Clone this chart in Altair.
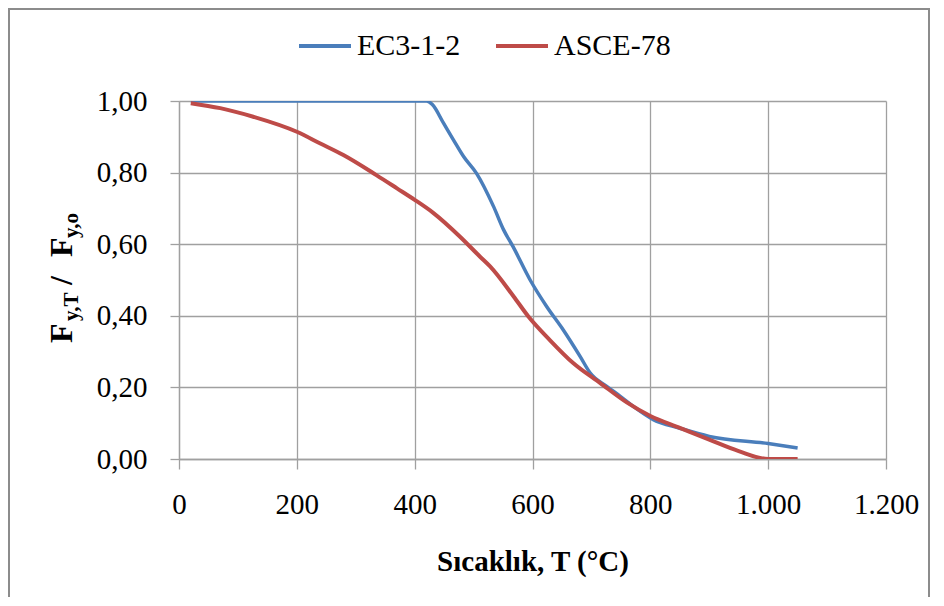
import altair as alt
import pandas as pd

# ---- data ----
series_names = ["EC3-1-2", "ASCE-78"]
series_colors = ["#4A7EBB", "#BE4B48"]

ec3_T = [20, 100, 200, 300, 400, 420, 430, 449, 466, 483, 505, 534, 551, 567,
         596, 624, 652, 681, 698, 726, 749, 771, 805, 850, 900, 1000, 1050]
ec3_k = [1.0, 1.0, 1.0, 1.0, 1.0, 1.0, 0.99, 0.938, 0.891, 0.845, 0.798, 0.705,
         0.64, 0.593, 0.50, 0.426, 0.361, 0.286, 0.24, 0.203, 0.175, 0.147,
         0.11, 0.086, 0.063, 0.043, 0.031]

asce_T = [20, 70, 126, 200, 239, 279, 335, 370, 400, 432, 477, 511, 528, 568,
          593, 629, 669, 715, 760, 800, 850, 900, 950, 1000, 1050]
asce_k = [0.994, 0.98, 0.956, 0.914, 0.882, 0.849, 0.793, 0.756, 0.724, 0.687,
          0.621, 0.565, 0.538, 0.454, 0.398, 0.333, 0.268, 0.212, 0.158, 0.12,
          0.087, 0.054, 0.022, 0.0, 0.0]

x_ticks = [0, 200, 400, 600, 800, 1000, 1200]
y_ticks = [0.0, 0.2, 0.4, 0.6, 0.8, 1.0]

x_title = "Sıcaklık, T (°C)"
y_title_parts = ["F", "y,T", "/", "F", "y,o"]

FONT = "Liberation Serif"
GRID = "#A0A0A0"

df_ec3 = pd.DataFrame({"T": ec3_T, "k": ec3_k, "series": series_names[0]})
df_asce = pd.DataFrame({"T": asce_T, "k": asce_k, "series": series_names[1]})

x_enc = alt.X(
    "T:Q",
    scale=alt.Scale(domain=[0, 1200], nice=False),
    axis=alt.Axis(
        values=x_ticks,
        labelExpr="replace(format(datum.value, ','), ',', '.')",
        title=x_title,
        titleFont=FONT, titleFontSize=29, titleFontWeight="bold",
        titleColor="black", titleY=111, titleBaseline="alphabetic",
        labelFont=FONT, labelFontSize=29, labelColor="black",
        labelPadding=21, tickSize=10, tickColor=GRID, tickWidth=1.3,
        domainColor=GRID, domainWidth=1.3, gridColor=GRID, gridWidth=1.3,
        grid=True, labelFlush=False, labelOverlap=False,
    ),
)
y_enc = alt.Y(
    "k:Q",
    scale=alt.Scale(domain=[0, 1], nice=False),
    axis=alt.Axis(
        values=y_ticks,
        labelExpr="replace(format(datum.value, '.2f'), '.', ',')",
        title="",
        labelFont=FONT, labelFontSize=29, labelColor="black",
        labelPadding=23, tickSize=9, tickColor=GRID, tickWidth=1.3,
        domainColor=GRID, domainWidth=1.3, gridColor=GRID, gridWidth=1.3,
        grid=True, labelFlush=False, labelOverlap=False,
    ),
)
color_enc = alt.Color(
    "series:N",
    scale=alt.Scale(domain=series_names, range=series_colors),
    legend=alt.Legend(
        orient="none", legendX=118, legendY=-83, direction="horizontal",
        title=None, symbolType="stroke", symbolSize=2704,
        symbolStrokeWidth=4, labelFont=FONT, labelFontSize=30,
        labelColor="black", labelOffset=4, columnPadding=27,
    ),
)

line_ec3 = alt.Chart(df_ec3).mark_line(
    strokeWidth=3.5, clip=True, interpolate="monotone"
).encode(x=x_enc, y=y_enc, color=color_enc)
line_asce = alt.Chart(df_asce).mark_line(
    strokeWidth=4, clip=True, interpolate="monotone"
).encode(x=x_enc, y=y_enc, color=color_enc)

one = pd.DataFrame({"a": [0]})

frame = alt.Chart(one).mark_rect(
    fillOpacity=0, stroke="#8C8C8C", strokeWidth=2
).encode(
    x=alt.value(-170), x2=alt.value(750), y=alt.value(-92), y2=alt.value(540)
)

def ypart(txt, size, xv, yv):
    return alt.Chart(one).mark_text(
        text=txt, font=FONT, fontSize=size, fontWeight="bold", angle=270,
        align="left", baseline="alphabetic", color="black",
    ).encode(x=alt.value(xv), y=alt.value(yv))

ytitle = (
    ypart(y_title_parts[0], 32, -107, 242)
    + ypart(y_title_parts[1], 21, -101, 220)
    + ypart(y_title_parts[2], 32, -107, 184)
    + ypart(y_title_parts[3], 32, -107, 156)
    + ypart(y_title_parts[4], 21, -101, 137)
)

chart = (
    alt.layer(frame, line_ec3, line_asce, ytitle)
    .properties(
        width=707, height=358,
        autosize=alt.AutoSizeParams(type="none"),
        padding={"left": 171, "top": 93, "right": 45, "bottom": 138},
        background="white",
    )
    .configure_view(stroke=None)
)

chart.save("out.html", embed_options={"renderer": "svg", "actions": False})
